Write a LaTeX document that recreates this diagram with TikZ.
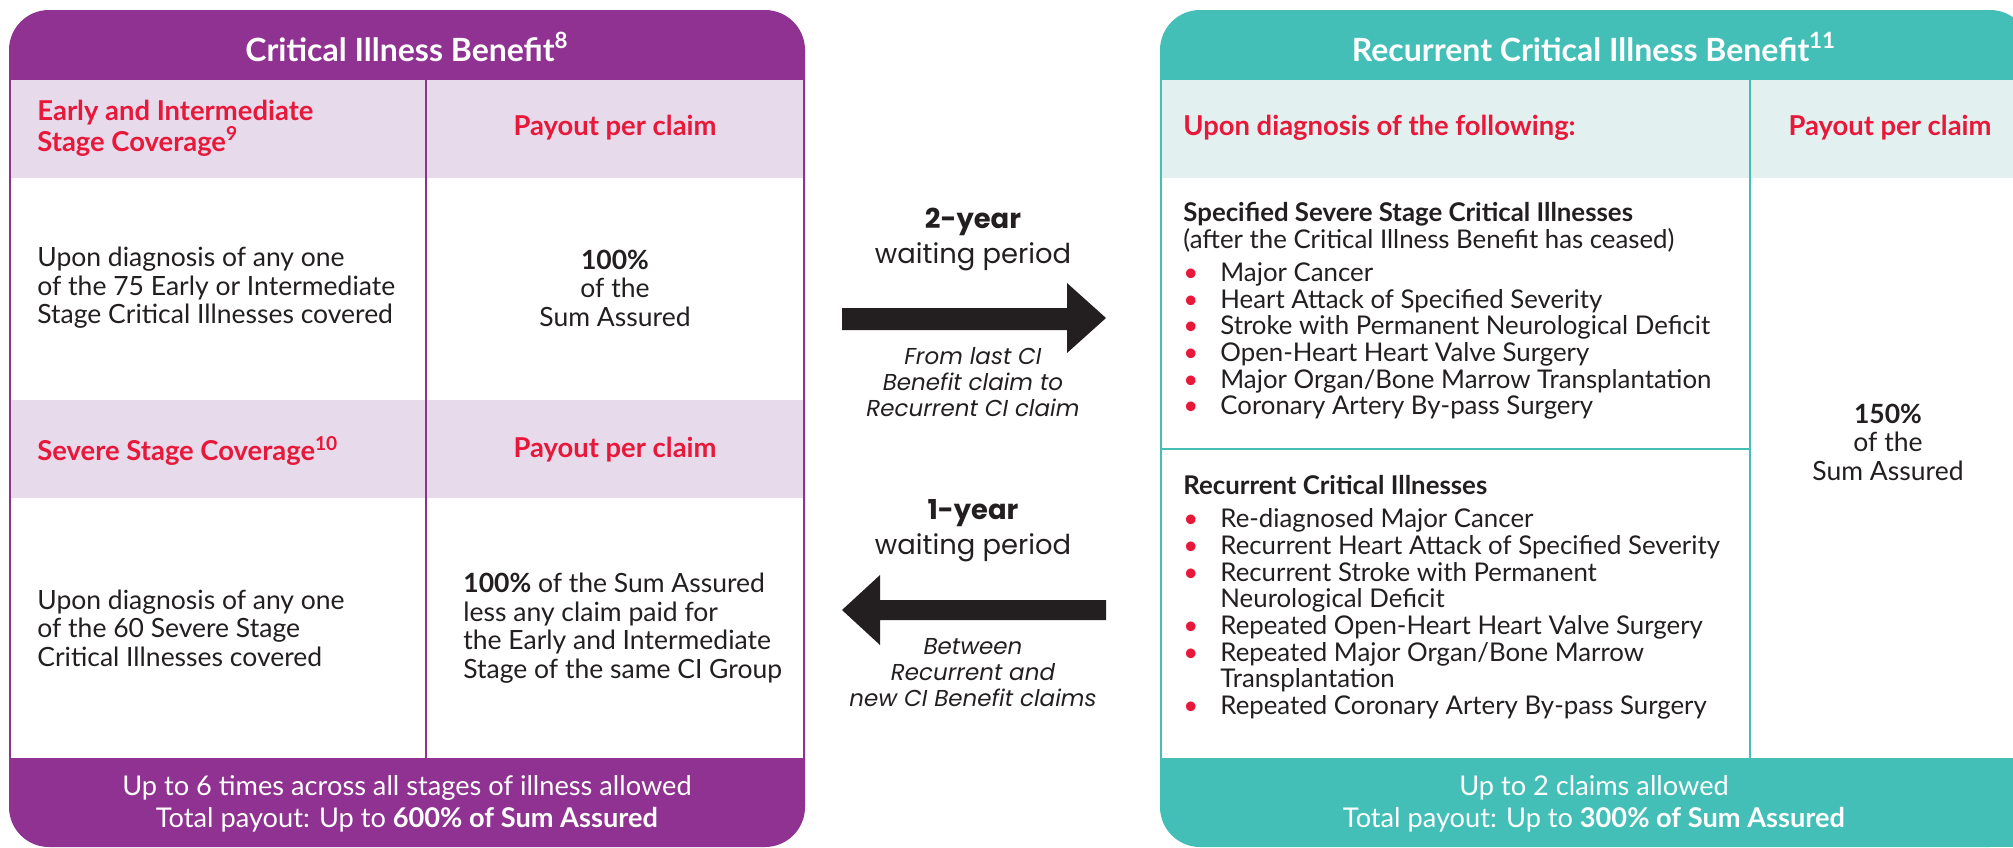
\documentclass[tikz,border=0pt]{standalone}
\usepackage{fontspec}
\setmainfont{Lato}
\newfontfamily\midfont{Poppins}
\usetikzlibrary{positioning}
\definecolor{cipurple}{RGB}{143, 50, 145}
\definecolor{cililac}{RGB}{231, 218, 235}
\definecolor{citeal}{RGB}{67, 191, 184}
\definecolor{cimint}{RGB}{226, 241, 240}
\definecolor{cired}{RGB}{232, 24, 58}
\definecolor{ink}{RGB}{35, 31, 32}
\newcommand{\bul}{\makebox[18.5pt][l]{\textcolor{cired}{\textbullet}}}

\begin{document}
\begin{tikzpicture}[
            x=0.5pt, y=-0.5pt,
            paneltitle/.style={inner sep=0pt, text=white, font=\fontsize{16}{19}\selectfont\bfseries},
            subhead/.style={inner sep=0pt, text=cired, align=left, font=\fontsize{13.7}{13.5}\selectfont\bfseries},
            bodytxt/.style={inner sep=0pt, text=ink, align=left, font=\fontsize{13.25}{14.25}\selectfont},
            listtxt/.style={inner sep=0pt, text=ink, align=left, font=\fontsize{12.9}{13.35}\selectfont},
            foottxt/.style={inner sep=0pt, text=white, align=center, font=\fontsize{13.6}{16}\selectfont},
            midtxt/.style={inner sep=0pt, text=ink, align=center, font=\midfont\fontsize{13.7}{17.5}\selectfont},
            miditalic/.style={inner sep=0pt, text=ink, align=center, font=\midfont\itshape\fontsize{11.5}{13}\selectfont}
        ]
            \useasboundingbox (0,0) rectangle (2013,847);

            % CRITICAL ILLNESS BENEFIT
            \fill[cipurple, rounded corners=20pt] (9,10) rectangle (805,847);
            \fill[white] (11,80) rectangle (803,758);
            \fill[cililac] (11,80) rectangle (803,178);
            \fill[cililac] (11,400) rectangle (803,498);
            \draw[cipurple, line width=1.4pt] (426,80) -- (426,758);
            \node[paneltitle] (ciTitle) at (407,47) {Critical Illness Benefit\textsuperscript{8}};
            \node[subhead, anchor=west] (eiHead) at (37,128) {
                Early and Intermediate\\
                Stage Coverage\textsuperscript{9}
            };
            \node[subhead] (eiPayHead) at (615,128) {Payout per claim};
            \node[bodytxt, anchor=west] (eiText) at (37,288) {
                Upon diagnosis of any one\\
                of the 75 Early or Intermediate\\
                Stage Critical Illnesses covered
            };
            \node[bodytxt, align=center] (eiPay) at (615,288) {
                \textbf{100\%}\\
                of the\\
                Sum Assured
            };
            \node[subhead, anchor=west] (sevHead) at (37,451) {Severe Stage Coverage\textsuperscript{10}};
            \node[subhead] (sevPayHead) at (615,450) {Payout per claim};
            \node[bodytxt, anchor=west] (sevText) at (37,628) {
                Upon diagnosis of any one\\
                of the 60 Severe Stage\\
                Critical Illnesses covered
            };
            \node[bodytxt, anchor=west] (sevPay) at (463,628) {
                \textbf{100\%} of the Sum Assured\\
                less any claim paid for\\
                the Early and Intermediate\\
                Stage of the same CI Group
            };
            \node[foottxt] (ciFoot) at (407,804) {
                Up to 6 times across all stages of illness allowed\\
                Total payout: Up to \textbf{600\% of Sum Assured}
            };

            % RECURRENT CRITICAL ILLNESS BENEFIT
            \fill[citeal, rounded corners=20pt] (1160,10) rectangle (2030,847);
            \fill[citeal] (1900,780) rectangle (2030,847);
            \fill[white] (1162,80) rectangle (2030,758);
            \fill[cimint] (1162,80) rectangle (2030,178);
            \draw[citeal, line width=1.4pt] (1750,80) -- (1750,758);
            \draw[citeal, line width=1.4pt] (1162,449) -- (1750,449);
            \node[paneltitle] (rciTitle) at (1594,47) {Recurrent Critical Illness Benefit\textsuperscript{11}};
            \node[subhead, anchor=west] (diagHead) at (1183,128) {Upon diagnosis of the following:};
            \node[subhead] (rciPayHead) at (1890,128) {Payout per claim};
            \node[listtxt, anchor=west] (specHead) at (1183,227) {
                \textbf{Specified Severe Stage Critical Illnesses}\\
                (after the Critical Illness Benefit has ceased)
            };
            \node[listtxt, anchor=west] (specList) at (1183,341) {
                \bul Major Cancer\\
                \bul Heart Attack of Specified Severity\\
                \bul Stroke with Permanent Neurological Deficit\\
                \bul Open-Heart Heart Valve Surgery\\
                \bul Major Organ/Bone Marrow Transplantation\\
                \bul Coronary Artery By-pass Surgery
            };
            \node[listtxt, anchor=west, font=\fontsize{12.9}{13.35}\selectfont\bfseries] (recHead) at (1183,485) {Recurrent Critical Illnesses};
            \node[listtxt, anchor=west] (recList) at (1183,614) {
                \bul Re-diagnosed Major Cancer\\
                \bul Recurrent Heart Attack of Specified Severity\\
                \bul Recurrent Stroke with Permanent\\
                \hspace*{18.5pt}Neurological Deficit\\
                \bul Repeated Open-Heart Heart Valve Surgery\\
                \bul Repeated Major Organ/Bone Marrow\\
                \hspace*{18.5pt}Transplantation\\
                \bul Repeated Coronary Artery By-pass Surgery
            };
            \node[bodytxt, align=center] (rciPay) at (1888,442) {
                \textbf{150\%}\\
                of the\\
                Sum Assured
            };
            \node[foottxt] (rciFoot) at (1594,804) {
                Up to 2 claims allowed\\
                Total payout: Up to \textbf{300\% of Sum Assured}
            };

            % WAITING PERIODS
            \node[midtxt] (twoYear) at (973,239) {\textbf{2-year}\\waiting period};
            \fill[ink] (842,308) -- (1067,308) -- (1067,283) -- (1106,318)
                -- (1067,353) -- (1067,330) -- (842,330) -- cycle;
            \node[miditalic] (twoYearNote) at (973,382) {
                From last CI\\
                Benefit claim to\\
                Recurrent CI claim
            };
            \node[midtxt] (oneYear) at (973,531) {\textbf{1-year}\\waiting period};
            \fill[ink] (1106,600) -- (880,600) -- (880,575) -- (842,610)
                -- (880,645) -- (880,620) -- (1106,620) -- cycle;
            \node[miditalic] (oneYearNote) at (973,673) {
                Between\\
                Recurrent and\\
                new CI Benefit claims
            };
        \end{tikzpicture}
\end{document}
